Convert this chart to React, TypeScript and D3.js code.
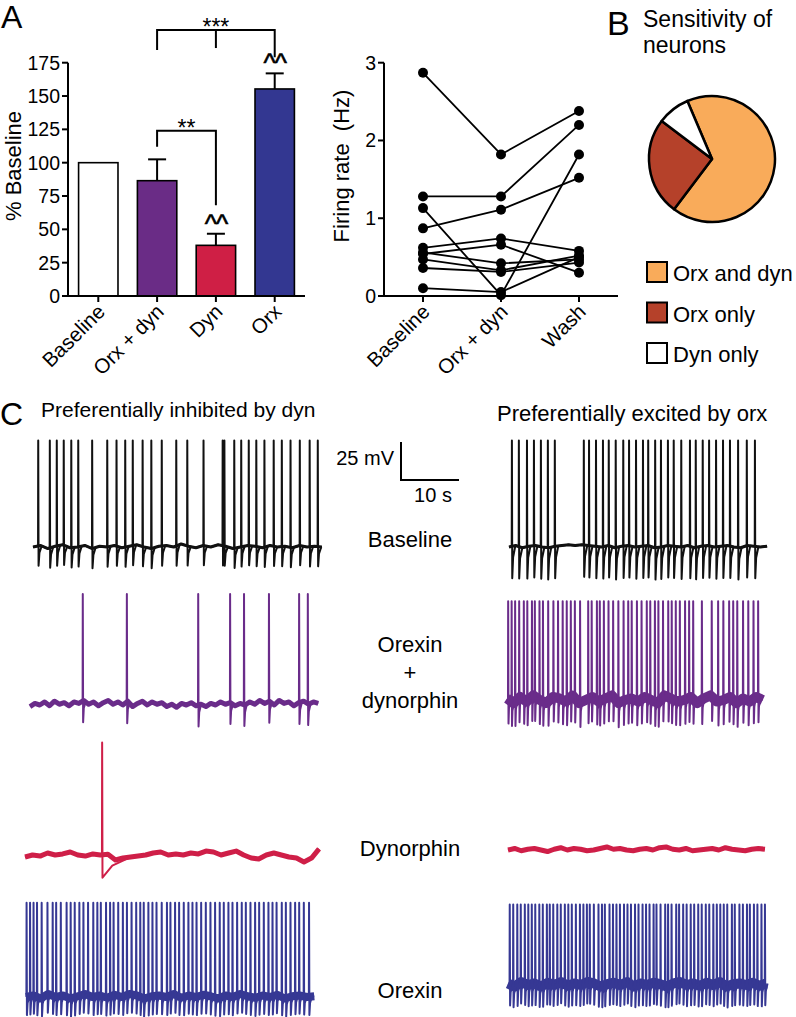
import React from 'react';
import * as d3 from 'd3';

// ---------- Panel A: bar chart ----------
const barCategories = ['Baseline', 'Orx + dyn', 'Dyn', 'Orx'];
const barMeans = [100, 86.5, 38, 155.3];
const barErrors = [0, 16, 8.7, 11.7];
const barColors = ['#ffffff', '#6a2c86', '#cf1f45', '#333791'];
const barMarks = ['', '', '^^', '^^'];
const barTicks = [0, 25, 50, 75, 100, 125, 150, 175];

// ---------- Panel A: firing rate ----------
const rateConditions = ['Baseline', 'Orx + dyn', 'Wash'];
const rateNeurons = [
  [2.87, 1.82, 2.38],
  [1.28, 1.28, 2.2],
  [0.87, 1.11, 1.52],
  [1.13, 0.01, 1.82],
  [0.62, 0.74, 0.58],
  [0.54, 0.66, 0.3],
  [0.56, 0.42, 0.47],
  [0.47, 0.33, 0.52],
  [0.36, 0.31, 0.43],
  [0.1, 0.05, 0.5],
];
const rateTicks = [0, 1, 2, 3];

// ---------- Panel B: pie ----------
const pieLabels = ['Orx and dyn', 'Orx only', 'Dyn only'];
const pieCounts = [8, 3, 1];
const pieColors = ['#f9ab5a', '#b5412a', '#ffffff'];

// ---------- Panel C: traces (spike times in s, noise in mV) ----------
const leftBaselineSpikes = [0.9, 2.9, 4.1, 5.3, 6.6, 7.8, 10.2, 12.8, 14.4, 15.9, 17.2, 18.9, 20.4, 22.2, 24.7, 26.6, 29.4, 32.7, 33.0, 34.7, 35.9, 37.2, 38.5, 39.9, 41.5, 42.9, 44.4, 46.0, 47.7, 49.1];
const leftBaselineNoise = [0, 1, -1, 0.5, 1.5, -0.5, 0, 1, -1, 0.5, 0, 1, -0.5, 0.5, 1.5, 0, -1, 0.5, 1, 0, 2, 0.5, -0.5, 1, 0, 1.5, 0.5, -1, 0, 1, 0.5, -0.5, 1, 0, 0.5, -0.5, 1, 0, 0.5, 0];
const rightBaselineSpikes = [0.5, 1.7, 3.1, 4.3, 5.5, 6.7, 7.9, 12.9, 13.8, 15.0, 16.2, 17.2, 18.4, 19.7, 20.7, 21.9, 23.1, 24.0, 25.2, 26.2, 27.4, 28.4, 29.7, 31.2, 32.2, 33.4, 34.5, 35.7, 36.9, 38.1, 39.5, 41.0, 42.4];
const rightBaselineNoise = [0, 1, -0.5, 0.5, 1, 0, -0.5, 0.5, 1, 1.5, 1, 1.5, 1, 0.5, 0, 1, -0.5, 0.5, 1, 0, 0.5, 1, -0.5, 0, 1, 0.5, 0, 1, -0.5, 0.5, 1, 0, 0.5, 1, 0, -0.5, 1, 0.5, 0, 0.5];

const leftOrxDynSpikes = [9.1, 16.7, 29.0, 34.5, 36.9, 41.2, 46.4, 47.9];
const leftOrxDynNoise = [-1, 1, 0, 2, -0.5, 2.5, 0.5, 1.5, -0.5, 2, 1, 3, 0.5, 2, -0.5, 1.5, 3, 0.5, 2, 0, 2.5, -1, 1, 2.5, 0, 2, 0.5, 1.5, -1, 0.5, -1.5, 1, 0, 1.5, -0.5, 0.5, -1, 1, 0, 2, 0.5, 1.5, -0.5, 1, 0, 2, 0.5, 3, 1, 2.5, 0, 3, 1, 2, -0.5, 1.5, 2.5, 0.5, 2, 1];
const rightOrxDynSpikes = [0.2, 0.8, 1.4, 2.1, 2.9, 3.5, 4.3, 4.8, 5.6, 6.2, 7.1, 8.0, 8.8, 9.6, 10.3, 11.0, 11.7, 12.6, 14.0, 14.6, 15.5, 16.0, 16.7, 17.5, 18.3, 19.2, 20.1, 20.9, 21.5, 22.4, 23.2, 24.1, 24.7, 25.5, 26.1, 26.9, 27.8, 28.4, 29.1, 29.8, 30.7, 31.4, 32.1, 33.6, 35.3, 36.4, 37.3, 38.3, 39.0, 39.7, 40.7, 41.6, 42.5, 43.3];
const rightOrxDynNoise = [1, -2, 2, -1, 3, 0, -2, 2, 1, -1, 3, -2, 0, 2, -1, 1, 3, -2, 0, 1, -1, 2, 0, -2, 3, 1, -1, 0, 2, -2, 1, 3, -1, 0, 2, -2, 1, -1, 2, 0];

const leftDynSpikes = [13.3];
const leftDynNoise = [-1.3, 0, -0.7, 1.3, 0, 0.7, 2, 0, -0.7, 0.7, 0, 0.5, -3.3, -2, -1.3, -0.7, 0, 1.3, 2, 0, 0.7, 0, 1.3, 0.7, 2.6, 2, 0, 1.3, 2.6, 0, -2, -2.6, 0, 1.3, 0, -1.3, -2, -4.6, -2, 4];
const rightDynSpikes: number[] = [];
const rightDynNoise = [0, 1, -0.5, 0.5, 1, 0, -1, 0.5, 1.5, 0, 1, 0.5, -0.5, 0, 1, 2, 0.5, 1, 0, -0.5, 0.5, 1, 0, 1.5, 2, 0.5, 0, 1, -0.5, 0, 0.5, 1, 0, 1.5, 0.5, 0, -0.5, 0.5, 1, 0.5];

const leftOrxSpikes = [0.1, 0.7, 1.3, 1.9, 2.7, 3.7, 4.6, 5.2, 6.0, 7.0, 7.7, 8.4, 9.2, 9.9, 10.7, 11.6, 12.3, 12.9, 13.8, 14.5, 15.1, 15.9, 16.7, 17.4, 18.2, 19.0, 19.7, 20.3, 21.1, 21.8, 22.5, 23.4, 24.3, 24.9, 25.7, 26.4, 27.2, 28.0, 28.7, 29.4, 30.2, 31.0, 31.8, 32.6, 33.4, 34.1, 34.9, 35.6, 36.4, 37.2, 37.9, 38.7, 39.5, 40.2, 41.0, 41.8, 42.5, 43.2, 44.1, 44.8, 45.6, 46.4, 47.1, 47.9, 48.8];
const leftOrxNoise = [0, 1, -1, 2, 0, 1, -1, 0.5, 2, 0, 1, -0.5, 1.5, 0, 2, 1, -1, 0.5, 1, 0, 2, -0.5, 1, 0, 1.5, 0.5, -1, 1, 0, 2, 0.5, -0.5, 1, 0, 1.5, -1, 0.5, 1, 0, 0.5];
const rightOrxSpikes = [0.3, 0.9, 1.6, 2.2, 2.9, 3.5, 4.1, 4.7, 5.4, 6.0, 6.7, 7.2, 7.8, 8.5, 9.1, 9.8, 10.4, 11.0, 11.7, 12.4, 13.0, 13.6, 14.1, 14.8, 15.6, 16.2, 16.7, 17.5, 18.1, 18.7, 19.3, 20.0, 20.6, 21.2, 21.9, 22.5, 23.2, 23.8, 24.4, 25.1, 25.6, 26.3, 27.1, 27.6, 28.2, 29.0, 29.5, 30.2, 30.8, 31.5, 32.1, 32.8, 33.4, 34.1, 34.7, 35.4, 36.0, 36.6, 37.2, 37.8, 38.6, 39.1, 39.9, 40.5, 41.2, 41.7, 42.4, 43.0, 43.7, 44.3];
const rightOrxNoise = [1, -1, 2, 0, 1, -1, 1.5, 0, 2, -0.5, 1, 0, 2, 1, -1, 0.5, 1.5, 0, 2, -1, 1, 0, 1.5, 0.5, -1, 1, 2, 0, 1, -0.5, 1.5, 0, 2, -1, 0.5, 1, 0, 1.5, -0.5, 1];

const traceLabels = ['Baseline', 'Orexin|+|dynorphin', 'Dynorphin', 'Orexin'];

const FONT = 'Liberation Sans, Arial, Helvetica, sans-serif';
const PX_PER_S = 5.8;
const PX_PER_MV = 38 / 25;

type TraceSpec = {
  spikes: number[]; noise: number[]; dur: number; x0: number; rest: number;
  peak: number; ahp: number; recov: number; color: string; band: number;
};

const traces: TraceSpec[] = [
  { spikes: leftBaselineSpikes, noise: leftBaselineNoise, dur: 49.8, x0: 33, rest: 547, peak: 70, ahp: -13, recov: 0.6, color: '#111111', band: 3 },
  { spikes: rightBaselineSpikes, noise: rightBaselineNoise, dur: 44.5, x0: 509, rest: 547, peak: 70, ahp: -21, recov: 0.6, color: '#111111', band: 3 },
  { spikes: leftOrxDynSpikes, noise: leftOrxDynNoise, dur: 49.7, x0: 30, rest: 705, peak: 73, ahp: -14, recov: 0.5, color: '#6a2c8a', band: 5 },
  { spikes: rightOrxDynSpikes, noise: rightOrxDynNoise, dur: 44.1, x0: 507, rest: 700, peak: 65, ahp: -16, recov: 0.4, color: '#6a2c8a', band: 10 },
  { spikes: leftDynSpikes, noise: leftDynNoise, dur: 50.7, x0: 25, rest: 855, peak: 74, ahp: -15, recov: 5, color: '#cf1f48', band: 5 },
  { spikes: rightDynSpikes, noise: rightDynNoise, dur: 44.3, x0: 508, rest: 850, peak: 0, ahp: 0, recov: 0.5, color: '#cf1f48', band: 5 },
  { spikes: leftOrxSpikes, noise: leftOrxNoise, dur: 49.7, x0: 26, rest: 997, peak: 62, ahp: -12, recov: 0.5, color: '#363894', band: 8 },
  { spikes: rightOrxSpikes, noise: rightOrxNoise, dur: 44.5, x0: 508, rest: 985, peak: 53, ahp: -14, recov: 0.45, color: '#363894', band: 10 },
];

function buildTrace(t: TraceSpec) {
  const nTimes = t.noise.map((_, i) => (i * t.dur) / (t.noise.length - 1));
  const base = d3.scaleLinear<number, number>().domain(nTimes).range(t.noise).clamp(true);
  const pts: [number, number][] = [];
  const windows: [number, number][] = [];
  t.spikes.forEach((ts, i) => {
    const next = i < t.spikes.length - 1 ? t.spikes[i + 1] - 0.03 : Infinity;
    const end = Math.min(ts + t.recov, next);
    windows.push([ts - 0.03, end]);
    pts.push([ts - 0.03, base(ts - 0.03)]);
    pts.push([ts, t.peak]);
    pts.push([ts + 0.06, base(ts) + t.ahp]);
    const mid = ts + t.recov * 0.35;
    if (mid < next) pts.push([mid, base(mid) + t.ahp * 0.35]);
    if (ts + t.recov < next) pts.push([ts + t.recov, base(ts + t.recov)]);
  });
  nTimes.forEach((tn, i) => {
    if (!windows.some(([a, b]) => tn >= a && tn <= b)) pts.push([tn, t.noise[i]]);
  });
  pts.sort((a, b) => a[0] - b[0]);
  const x = d3.scaleLinear().domain([0, t.dur]).range([t.x0, t.x0 + t.dur * PX_PER_S]);
  const y = d3.scaleLinear().domain([0, 25]).range([t.rest, t.rest - 25 * PX_PER_MV]);
  const line = d3.line<[number, number]>().x((d) => x(d[0])).y((d) => y(d[1]));
  const bandPts: [number, number][] = nTimes.map((tn, i) => [tn, t.noise[i]]);
  return { main: line(pts) || '', band: line(bandPts) || '' };
}

export default function App() {
  // ----- bar chart scales -----
  const xBar = d3.scaleBand<string>().domain(barCategories).range([68, 305]).paddingInner(0.33).paddingOuter(0.18);
  const yBar = d3.scaleLinear().domain([0, 175]).range([296, 62.7]);
  const bw = xBar.bandwidth();
  const bc = (c: string) => (xBar(c) || 0) + bw / 2;

  // ----- rate chart scales -----
  const xRate = d3.scalePoint<string>().domain(rateConditions).range([384, 618]).padding(0.5);
  const yRate = d3.scaleLinear().domain([0, 3]).range([296, 62.7]);
  const rateLine = d3.line<number>().x((_, i) => xRate(rateConditions[i]) || 0).y((d) => yRate(d));

  // ----- pie -----
  const start = (-23 * Math.PI) / 180;
  const pie = d3.pie<number>().sort(null).startAngle(start).endAngle(start + 2 * Math.PI)(pieCounts);
  const arc = d3.arc<d3.PieArcDatum<number>>().innerRadius(0).outerRadius(63);

  const built = traces.map(buildTrace);

  const brackets = [
    { from: 'Orx + dyn', to: 'Dyn', top: 124, l: 112, r: 68, mid: '', m: 0, label: '**' },
    { from: 'Orx + dyn', to: 'Orx', top: 199.5, l: 184.5, r: 179, mid: 'Dyn', m: 186, label: '***' },
  ];

  return (
    <svg width={796} height={1017} style={{ position: 'absolute', left: 0, top: 0, background: '#fff' }} fontFamily={FONT}>
      {/* Panel letters */}
      <text x={1} y={28} fontSize={32}>A</text>
      <text x={607} y={35} fontSize={34}>B</text>
      <text x={0} y={425} fontSize={32}>C</text>

      {/* ---- Bar chart ---- */}
      {barCategories.map((c, i) => (
        <g key={c}>
          <rect x={xBar(c)} y={yBar(barMeans[i])} width={bw} height={yBar(0) - yBar(barMeans[i])}
            fill={barColors[i]} stroke="#000" strokeWidth={1.6} />
          {barErrors[i] > 0 && (
            <g stroke="#000" strokeWidth={2}>
              <line x1={bc(c)} x2={bc(c)} y1={yBar(barMeans[i])} y2={yBar(barMeans[i] + barErrors[i])} />
              <line x1={bc(c) - 9} x2={bc(c) + 9} y1={yBar(barMeans[i] + barErrors[i])} y2={yBar(barMeans[i] + barErrors[i])} />
            </g>
          )}
          {barMarks[i] && (
            <text x={bc(c)} y={yBar(barMeans[i] + barErrors[i]) - 1} fontSize={26} textAnchor="middle" letterSpacing={-1}
              stroke="#000" strokeWidth={0.6}>{barMarks[i]}</text>
          )}
        </g>
      ))}
      {brackets.map((b) => (
        <g key={b.label}>
          <path d={`M${bc(b.from)},${yBar(b.l)}V${yBar(b.top)}H${bc(b.to)}V${yBar(b.r)}`} fill="none" stroke="#000" strokeWidth={2} />
          {b.mid && <line x1={bc(b.mid)} x2={bc(b.mid)} y1={yBar(b.top)} y2={yBar(b.m)} stroke="#000" strokeWidth={2} />}
          <text x={b.mid ? bc(b.mid) : (bc(b.from) + bc(b.to)) / 2} y={yBar(b.top) + 5} fontSize={23} textAnchor="middle">{b.label}</text>
        </g>
      ))}
      <g stroke="#000" strokeWidth={2}>
        <line x1={68} x2={68} y1={yBar(0) + 1} y2={yBar(175)} />
        <line x1={67} x2={305} y1={yBar(0)} y2={yBar(0)} />
        {barTicks.map((t) => <line key={t} x1={62} x2={68} y1={yBar(t)} y2={yBar(t)} />)}
        {barCategories.map((c) => <line key={c} x1={bc(c)} x2={bc(c)} y1={yBar(0)} y2={yBar(0) + 6} />)}
      </g>
      {barTicks.map((t) => (
        <text key={t} x={60} y={yBar(t) + 7} fontSize={19.5} textAnchor="end">{t}</text>
      ))}
      {barCategories.map((c) => (
        <text key={c} transform={`translate(${bc(c) + 8},${313}) rotate(-45)`} fontSize={20.5} textAnchor="end">{c}</text>
      ))}
      <text transform={`translate(21,166) rotate(-90)`} fontSize={22} textAnchor="middle">% Baseline</text>

      {/* ---- Rate chart ---- */}
      {rateNeurons.map((n, i) => (
        <path key={i} d={rateLine(n) || ''} fill="none" stroke="#000" strokeWidth={1.8} />
      ))}
      {rateNeurons.map((n, i) => n.map((v, j) => (
        <circle key={`${i}-${j}`} cx={xRate(rateConditions[j])} cy={yRate(v)} r={5} fill="#000" />
      )))}
      <g stroke="#000" strokeWidth={2}>
        <line x1={384} x2={384} y1={yRate(0) + 1} y2={yRate(3)} />
        <line x1={383} x2={618} y1={yRate(0)} y2={yRate(0)} />
        {rateTicks.map((t) => <line key={t} x1={378} x2={384} y1={yRate(t)} y2={yRate(t)} />)}
        {rateConditions.map((c) => <line key={c} x1={xRate(c)} x2={xRate(c)} y1={yRate(0)} y2={yRate(0) + 6} />)}
      </g>
      {rateTicks.map((t) => (
        <text key={t} x={376} y={yRate(t) + 7} fontSize={19.5} textAnchor="end">{t}</text>
      ))}
      {rateConditions.map((c) => (
        <text key={c} transform={`translate(${(xRate(c) || 0) + 8},${313}) rotate(-45)`} fontSize={20.5} textAnchor="end">{c}</text>
      ))}
      <text transform={`translate(349,166) rotate(-90)`} fontSize={22} textAnchor="middle" style={{ whiteSpace: 'pre' }}>Firing rate  (Hz)</text>

      {/* ---- Pie ---- */}
      <text x={643} y={27} fontSize={23}>Sensitivity of</text>
      <text x={643} y={53} fontSize={23}>neurons</text>
      <g transform="translate(712,159)">
        {pie.map((p, i) => (
          <path key={i} d={arc(p) || ''} fill={pieColors[i]} stroke="#000" strokeWidth={2.5} strokeLinejoin="round" />
        ))}
      </g>
      {pieLabels.map((l, i) => (
        <g key={l}>
          <rect x={647} y={262 + i * 40.5} width={20} height={20} fill={pieColors[i]} stroke="#000" strokeWidth={2} />
          <text x={673} y={281 + i * 40.5} fontSize={22}>{l}</text>
        </g>
      ))}

      {/* ---- Panel C ---- */}
      <text x={41} y={417} fontSize={21}>Preferentially inhibited by dyn</text>
      <text x={497} y={421} fontSize={22}>Preferentially excited by orx</text>
      {traces.map((t, i) => (
        <g key={i} stroke={t.color} fill="none" strokeLinejoin="round">
          <path d={built[i].band} strokeWidth={t.band} />
          <path d={built[i].main} strokeWidth={2} />
        </g>
      ))}
      {/* scale bar: 25 mV, 10 s */}
      <path d={`M401,${480 - 25 * PX_PER_MV}V480H${401 + 10 * PX_PER_S}`} fill="none" stroke="#000" strokeWidth={2} />
      <text x={394} y={465} fontSize={20} textAnchor="end">25 mV</text>
      <text x={433} y={502} fontSize={20} textAnchor="middle">10 s</text>

      {traceLabels.map((l, i) => {
        const ys = [547, 652, 856, 998];
        const parts = l.split('|');
        return parts.map((p, j) => (
          <text key={`${i}-${j}`} x={410} y={ys[i] + j * 28} fontSize={22} textAnchor="middle">{p}</text>
        ));
      })}
    </svg>
  );
}
